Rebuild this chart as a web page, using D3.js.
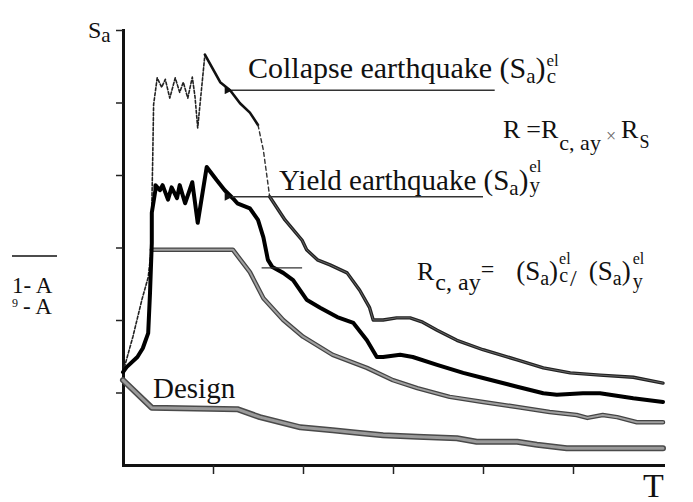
<!DOCTYPE html>
<html><head><meta charset="utf-8">
<script src="https://cdn.jsdelivr.net/npm/d3@7"></script>
</head><body style="margin:0"><svg id="c" width="693" height="502"></svg>
<script>
// ---- data (T and Sa in arbitrary units) ----
const periodTicks = [1, 2, 3, 4, 5];
const saTicks = [1, 2, 3, 4, 5, 6];

// Collapse earthquake spectrum (pieces: dashed rise, solid, dashed drop, solid tail)
const collapseRise = [[0,1.28],[0.11,1.77],[0.21,2.28],[0.28,2.59],[0.31,2.92],[0.33,4.21],[0.34,4.97],[0.38,5.34],[0.43,5.21],[0.47,5.32],[0.52,5.06],[0.58,5.34],[0.63,5.14],[0.67,5.28],[0.72,5.06],[0.77,5.35],[0.80,5.08],[0.83,4.65],[0.91,5.66]];
const collapseUpper = [[0.91,5.66],[1.08,5.28],[1.19,5.17],[1.30,4.99],[1.41,4.86],[1.50,4.69]];
const collapseDrop = [[1.50,4.69],[1.56,4.34],[1.63,3.70]];
const collapseTail = [[1.63,3.70],[1.80,3.38],[1.99,3.10],[2.04,2.97],[2.16,2.83],[2.30,2.76],[2.49,2.65],[2.63,2.41],[2.74,2.17],[2.78,2.00],[2.89,2.00],[3.04,2.03],[3.19,2.03],[3.33,1.97],[3.49,1.86],[3.71,1.72],[4.00,1.59],[4.38,1.45],[4.67,1.34],[4.97,1.27],[5.30,1.24],[5.67,1.21],[6.00,1.13]];

// Yield earthquake spectrum
const yieldSpectrum = [[0,1.28],[0.04,1.35],[0.16,1.49],[0.22,1.61],[0.28,1.82],[0.30,2.37],[0.32,3.06],[0.32,3.48],[0.36,3.79],[0.36,3.86],[0.41,3.79],[0.44,3.86],[0.50,3.66],[0.54,3.83],[0.60,3.68],[0.63,3.86],[0.69,3.61],[0.77,3.90],[0.83,3.34],[0.93,4.11],[1.04,3.93],[1.13,3.79],[1.22,3.68],[1.27,3.61],[1.41,3.54],[1.50,3.38],[1.56,3.14],[1.61,2.83],[1.66,2.73],[1.78,2.65],[1.89,2.55],[2.04,2.28],[2.19,2.17],[2.38,2.04],[2.56,1.96],[2.71,1.72],[2.82,1.49],[2.89,1.49],[3.08,1.52],[3.22,1.49],[3.49,1.38],[3.78,1.27],[4.00,1.20],[4.38,1.08],[4.67,0.99],[4.82,0.97],[5.11,0.99],[5.30,0.99],[5.67,0.92],[6.00,0.87]];

// Smoothed (plateau) spectrum
const smoothSpectrum = [[0.32,2.97],[1.22,2.97],[1.41,2.66],[1.56,2.30],[1.78,2.00],[2.00,1.77],[2.33,1.52],[2.71,1.34],[3.00,1.17],[3.27,1.06],[3.63,0.94],[4.00,0.87],[4.38,0.80],[4.74,0.73],[5.04,0.69],[5.16,0.65],[5.33,0.69],[5.49,0.66],[5.71,0.59],[6.00,0.59]];

// Design spectrum
const designSpectrum = [[0,1.17],[0.32,0.79],[1.27,0.77],[1.52,0.66],[1.97,0.52],[2.33,0.48],[2.63,0.44],[2.89,0.41],[3.27,0.39],[3.71,0.37],[3.93,0.32],[4.38,0.32],[4.60,0.28],[4.93,0.23],[6.00,0.23]];

// annotation anchors (data units)
const collapseArrow = [[4.13,5.17],[1.21,5.17]];
const yieldArrow = [[4.00,3.70],[1.21,3.70]];
const markTick = [[1.54,2.72],[1.99,2.72]];

// ---- drawing ----
const FONT = "Liberation Serif";
const svg = d3.select("#c");
const x = d3.scaleLinear().domain([0,6]).range([123,663]);
const y = d3.scaleLinear().domain([0,6]).range([465,30]);
const line = d3.line().x(d=>x(d[0])).y(d=>y(d[1]));

svg.append("defs").append("marker").attr("id","ah").attr("viewBox","0 0 10 10")
  .attr("refX",1).attr("refY",5).attr("markerWidth",12).attr("markerHeight",8)
  .attr("markerUnits","userSpaceOnUse").attr("orient","auto-start-reverse")
  .append("path").attr("d","M0,5 L10,0 L10,10 Z").attr("fill","#111");

// axes
const ya = svg.append("g").attr("transform",`translate(${x(0)},0)`)
  .call(d3.axisLeft(y).tickValues(saTicks).tickSize(7).tickSizeOuter(0).tickFormat(""));
const xa = svg.append("g").attr("transform",`translate(0,${y(0)})`)
  .call(d3.axisBottom(x).tickValues(periodTicks).tickSize(9).tickSizeOuter(0).tickFormat(""));
[ya,xa].forEach(a=>{
  a.attr("font-family",FONT);
  a.select(".domain").attr("stroke","#111").attr("stroke-width",3).attr("stroke-linecap","square");
  a.selectAll(".tick line").attr("stroke","#222").attr("stroke-width",1.5);
});

// curves
function draw(data, stroke, w, dash){
  const p = svg.append("path").datum(data).attr("d",line).attr("fill","none")
    .attr("stroke",stroke).attr("stroke-width",w).attr("stroke-linejoin","round").attr("stroke-linecap","round");
  if(dash) p.attr("stroke-dasharray",dash);
  return p;
}
draw(designSpectrum,"#4a4a4a",6);
draw(designSpectrum,"#9a9a9a",3);
draw(smoothSpectrum,"#444",4.5);
draw(smoothSpectrum,"#a0a0a0",2);
draw(collapseRise,"#222",1.6,"3,2");
draw(collapseUpper,"#111",2.6);
draw(collapseDrop,"#333",1.4,"4,3");
draw(collapseTail,"#222",3.4);
draw(collapseTail,"#777",0.8);
draw(yieldSpectrum,"#000",4);

// annotation lines
svg.append("path").datum(collapseArrow).attr("d",line).attr("stroke","#333").attr("stroke-width",1.4).attr("fill","none").attr("marker-end","url(#ah)");
svg.append("path").datum(yieldArrow).attr("d",line).attr("stroke","#333").attr("stroke-width",1.4).attr("fill","none").attr("marker-end","url(#ah)");
svg.append("path").datum(markTick).attr("d",line).attr("stroke","#333").attr("stroke-width",1.3).attr("fill","none");

// rich text: one <text> with tspans (dy = baseline offset, dx = extra gap)
function rich(x0,y0,parts){
  const t = svg.append("text").attr("x",x0).attr("y",y0).attr("font-family",FONT).attr("fill","#111");
  let cur = 0;
  parts.forEach(p=>{
    const target = p.dy||0;
    const ts = t.append("tspan").attr("font-size",p.s).attr("dy",target-cur);
    if(p.dx) ts.attr("dx",p.dx);
    if(p.fill) ts.attr("fill",p.fill);
    ts.text(p.t);
    cur = target;
  });
  return t;
}

// axis labels
rich(88,38,[{t:"S",s:24},{t:"a",s:21,dy:4}]);
rich(643,497,[{t:"T",s:34}]);

// curve labels
rich(248,78,[{t:"Collapse earthquake (S",s:30},{t:"a",s:21,dy:5},{t:")",s:30},
  {t:"el",s:17,dy:-12,dx:1},{t:"c",s:21,dy:5,dx:-12}]);
rich(279,190,[{t:"Yield earthquake (S",s:29},{t:"a",s:21,dy:5},{t:")",s:29},
  {t:"el",s:17,dy:-18,dx:1},{t:"y",s:21,dy:2,dx:-12}]);
rich(153,398,[{t:"Design",s:29}]);

// formulas
rich(503,138,[{t:"R",s:26},{t:"=R",s:26,dx:6},{t:"c, ay",s:22,dy:12,dx:1},{t:"×",s:18,fill:"#666",dx:5,dy:4},{t:"R",s:26,dx:5},{t:"S",s:18,dy:10,dx:1}]);
rich(417,280,[{t:"R",s:26},{t:"c, ay",s:24,dy:10,dx:1},{t:"=",s:24,dy:-3},
  {t:"(S",s:27,dx:22},{t:"a",s:20,dy:5},{t:")",s:27},
  {t:"el",s:16,dy:-16,dx:1},{t:"c",s:20,dy:2,dx:-11.5},{t:"/",s:24,dy:6,dx:2},
  {t:"(S",s:27,dx:12},{t:"a",s:20,dy:5},{t:")",s:27,dx:0},
  {t:"el",s:16,dy:-16,dx:2},{t:"y",s:20,dy:8,dx:-11.5}]);

// left side fragment
svg.append("line").attr("x1",12).attr("x2",57).attr("y1",256).attr("y2",256).attr("stroke","#111").attr("stroke-width",1.5);
rich(12,293,[{t:"1- A",s:23}]);
rich(12,307,[{t:"9",s:12},{t:"- A",s:23,dy:7,dx:5}]);
</script></body></html>
